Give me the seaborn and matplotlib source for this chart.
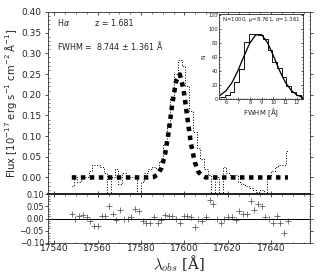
import numpy as np
import pandas as pd
import matplotlib
matplotlib.use('Agg')
import matplotlib.pyplot as plt
import seaborn as sns
from matplotlib.ticker import MultipleLocator, AutoMinorLocator

# ---- data ----
wave = [17548.0, 17549.7, 17551.4, 17553.2, 17554.9, 17556.6, 17558.3, 17560.0, 17561.8, 17563.5,
        17565.2, 17566.9, 17568.6, 17570.4, 17572.1, 17573.8, 17575.5, 17577.2, 17579.0, 17580.7,
        17582.4, 17584.1, 17585.8, 17587.6, 17589.3, 17591.0, 17592.7, 17594.4, 17596.2, 17597.9,
        17599.6, 17601.3, 17603.0, 17604.8, 17606.5, 17608.2, 17609.9, 17611.6, 17613.4, 17615.1,
        17616.8, 17618.5, 17620.2, 17622.0, 17623.7, 17625.4, 17627.1, 17628.8, 17630.6, 17632.3,
        17634.0, 17635.7, 17637.4, 17639.2, 17640.9, 17642.6, 17644.3, 17646.0, 17647.8]

flux = [-0.02, 0.0, -0.01, 0.0, 0.0, 0.015, 0.03, 0.03, 0.025, 0.01,
        -0.06, 0.0, 0.02, -0.015, 0.01, 0.0, 0.0, 0.0, -0.06, -0.01,
        0.01, 0.02, 0.025, 0.02, 0.04, 0.08, 0.13, 0.19, 0.25, 0.285,
        0.27, 0.22, 0.16, 0.11, 0.07, 0.045, 0.02, 0.005, -0.06, 0.0,
        -0.06, 0.025, 0.01, 0.0, 0.005, -0.01, -0.015, -0.02, -0.025, -0.03,
        -0.035, -0.03, -0.06, 0.005, 0.015, 0.025, 0.03, 0.03, 0.065]

model = [0.0, 0.0, 0.0, 0.0, 0.0, 0.0, 0.0, 0.0, 0.0, 0.0,
         0.0, 0.0, 0.0, 0.0, 0.0, 0.0, 0.0, 0.0, 0.0, 0.0,
         0.0, 0.0, 0.001, 0.007, 0.022, 0.054, 0.109, 0.178, 0.234, 0.249,
         0.213, 0.147, 0.082, 0.037, 0.013, 0.004, 0.0, 0.0, 0.0, 0.0,
         0.0, 0.0, 0.0, 0.0, 0.0, 0.0, 0.0, 0.0, 0.0, 0.0,
         0.0, 0.0, 0.0, 0.0, 0.0, 0.0, 0.0, 0.0, 0.0]

resid = [0.02, 0.0, 0.01, 0.015, 0.005, -0.01, -0.03, -0.03, 0.01, 0.01,
         0.05, 0.02, -0.005, 0.035, 0.0, 0.0, 0.005, 0.04, 0.03, -0.01,
         -0.02, -0.02, 0.005, -0.02, -0.005, 0.015, 0.01, 0.01, 0.0, -0.02,
         0.01, 0.01, 0.005, -0.035, 0.0, -0.01, 0.005, 0.075, 0.06, 0.0,
         -0.02, 0.0, 0.005, 0.005, -0.005, 0.03, 0.02, 0.02, 0.07, 0.035,
         0.06, 0.05, 0.005, 0.0, -0.02, 0.01, -0.02, -0.06, -0.01]

# inset: FWHM distribution
fwhm_edges = [5.5, 5.9, 6.3, 6.7, 7.1, 7.5, 7.9, 8.3, 8.7, 9.1, 9.5,
              9.9, 10.3, 10.7, 11.1, 11.5, 11.9, 12.3, 12.7]
fwhm_counts = [3, 5, 10, 24, 42, 81, 92, 93, 91, 86, 70, 52, 44, 31, 18, 10, 5, 2]
fit_x = [5.5, 6.0, 6.5, 7.0, 7.5, 8.0, 8.5, 9.0, 9.5, 10.0, 10.5, 11.0, 11.5, 12.0, 12.5]
fit_y = [5.3, 11.9, 23.4, 40.3, 60.6, 79.5, 91.3, 91.6, 80.2, 61.5, 41.1, 24.0, 12.3, 5.5, 2.1]

df = pd.DataFrame({'wave': wave, 'flux': flux, 'model': model, 'resid': resid})
centers = [(a + b) / 2 for a, b in zip(fwhm_edges[:-1], fwhm_edges[1:])]
hist = pd.DataFrame({'fwhm': centers, 'n': fwhm_counts})

# -----------------------

sns.set_style('ticks')
plt.rcParams['font.family'] = ['DejaVu Sans']
plt.rcParams['xtick.direction'] = 'in'
plt.rcParams['ytick.direction'] = 'in'

W, H = 323, 280
fig = plt.figure(figsize=(W / 72, H / 72), dpi=72)
ax = fig.add_axes([48 / W, 1 - 194 / H, (310 - 48) / W, (194 - 12) / H])
rax = fig.add_axes([48 / W, 1 - 243 / H, (310 - 48) / W, (243 - 194) / H])
iax = fig.add_axes([219 / W, 1 - 99 / H, (303 - 219) / W, (99 - 14) / H])

xlim = (17537, 17658)

# main panel
sns.lineplot(data=df, x='wave', y='flux', ax=ax, color='k', lw=1,
             linestyle=':', drawstyle='steps-mid')
sns.lineplot(data=df, x='wave', y='model', ax=ax, color='k', lw=4.5,
             linestyle=(0, (1, 1)))
ax.set_xlim(xlim)
ax.set_ylim(-0.04, 0.40)
ax.yaxis.set_major_locator(MultipleLocator(0.05))
ax.yaxis.set_minor_locator(MultipleLocator(0.01))
ax.xaxis.set_major_locator(MultipleLocator(20))
ax.xaxis.set_minor_locator(MultipleLocator(5))
ax.set_xticklabels([])
ax.tick_params(which='both', top=True, right=True)
ax.tick_params(axis='y', which='major', direction='out', labelsize=9, length=3)
ax.tick_params(axis='y', which='minor', length=1.5)
ax.tick_params(axis='x', which='major', length=3)
ax.tick_params(axis='x', which='minor', length=1.5)
ax.set_xlabel('')
ax.set_ylabel(r'Flux [10$^{-17}$ erg s$^{-1}$ cm$^{-2}$ $\mathrm{\AA}^{-1}$]',
              fontsize=10, labelpad=2)
ax.spines['bottom'].set_linewidth(2)

ax.text(0.035, 0.925, r'H$\alpha$', transform=ax.transAxes, fontsize=8)
ax.text(0.18, 0.925, 'z = 1.681', transform=ax.transAxes, fontsize=8)
ax.text(0.035, 0.79, r'FWHM =  8.744 $\pm$ 1.361 $\mathrm{\AA}$',
        transform=ax.transAxes, fontsize=8)

# residual panel
sns.scatterplot(data=df, x='wave', y='resid', ax=rax, marker='+', s=30,
                color='0.35', linewidth=0.8)
rax.axhline(0, color='k', lw=1)
rax.set_xlim(xlim)
rax.set_ylim(-0.10, 0.10)
rax.yaxis.set_major_locator(MultipleLocator(0.05))
rax.yaxis.set_minor_locator(MultipleLocator(0.01))
rax.xaxis.set_major_locator(MultipleLocator(20))
rax.xaxis.set_minor_locator(MultipleLocator(5))
rax.tick_params(which='both', top=True, right=True)
rax.tick_params(axis='y', which='major', direction='out', labelsize=8, length=3, pad=1)
rax.tick_params(axis='y', which='minor', length=1.5)
rax.tick_params(axis='x', which='major', labelsize=9, length=3, pad=1)
rax.tick_params(axis='x', which='minor', length=1.5)
rax.spines['top'].set_linewidth(2)
rax.set_ylabel('')
rax.set_xlabel(r'$\lambda_{obs}$ [Å]', fontsize=15, family='DejaVu Serif',
               math_fontfamily='cm', labelpad=0)

# inset
sns.histplot(data=hist, x='fwhm', weights='n', bins=fwhm_edges, ax=iax,
             element='step', fill=False, color='k', lw=0.9)
sns.lineplot(x=fit_x, y=fit_y, ax=iax, color='k', lw=1.3)
iax.set_xlim(5.4, 12.5)
iax.set_ylim(0, 121)
iax.xaxis.set_major_locator(MultipleLocator(1))
iax.xaxis.set_minor_locator(MultipleLocator(0.2))
iax.yaxis.set_major_locator(MultipleLocator(20))
iax.yaxis.set_minor_locator(MultipleLocator(5))
iax.tick_params(which='both', top=True, right=True, labelsize=5, length=2, pad=1)
iax.tick_params(which='minor', length=1)
iax.set_xlabel(r'FWHM [$\mathrm{\AA}$]', fontsize=7, labelpad=1)
iax.set_ylabel('N', fontsize=6, labelpad=2)
iax.text(0.5, 0.93, r'N=1000, $\mu$=8.761, $\sigma$=1.361', transform=iax.transAxes,
         fontsize=5.5, ha='center', va='center',
         bbox=dict(facecolor='white', edgecolor='none', pad=0.5))
for s in iax.spines.values():
    s.set_linewidth(0.8)

fig.savefig('out.png', dpi=72)
